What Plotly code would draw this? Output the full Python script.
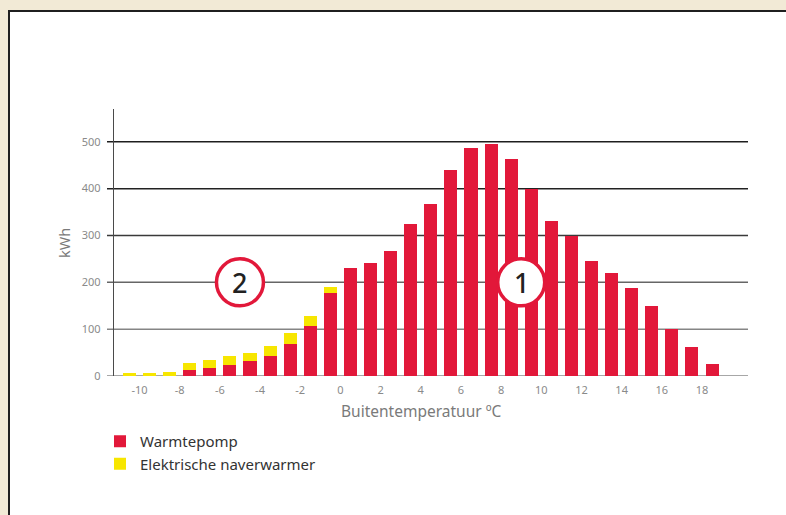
import plotly.graph_objects as go

# ---- data ----
temps = [-10.5, -9.5, -8.5, -7.5, -6.5, -5.5, -4.5, -3.5, -2.5, -1.5, -0.5,
         0.5, 1.5, 2.5, 3.5, 4.5, 5.5, 6.5, 7.5, 8.5, 9.5, 10.5, 11.5, 12.5,
         13.5, 14.5, 15.5, 16.5, 17.5, 18.5]
warmtepomp = [0, 0, 0, 13, 18, 24, 33, 43, 68, 107, 177,
              231, 241, 267, 325, 367, 440, 487, 496, 464, 399, 331, 298, 246,
              220, 188, 150, 101, 62, 26]
naverwarmer = [7, 7, 9, 15, 17, 19, 16, 21, 24, 21, 13,
               0, 0, 0, 0, 0, 0, 0, 0, 0, 0, 0, 0, 0,
               0, 0, 0, 0, 0, 0]
x_ticks = [-10, -8, -6, -4, -2, 0, 2, 4, 6, 8, 10, 12, 14, 16, 18]
y_ticks = [0, 100, 200, 300, 400, 500]
grid_colors = ["#8a8a8a", "#858585", "#666666", "#3a3a3a", "#222222", "#1e1e1e"]
markers = [("2", -5, 200), ("1", 9, 200)]

RED = "#E2183A"
YELLOW = "#F7E600"
FONT = "Noto Sans"

W, H = 786, 515
L, R, T, B = 114, 38, 109, 139
pw, ph = W - L - R, H - T - B


def px_x(p):
    return (p - L) / pw


def px_y(p):
    return (H - B - p) / ph


fig = go.Figure()
fig.add_trace(go.Bar(x=temps, y=warmtepomp, name="Warmtepomp",
                     marker=dict(color=RED, line=dict(width=0)), width=0.65))
fig.add_trace(go.Bar(x=temps, y=naverwarmer, name="Elektrische naverwarmer",
                     marker=dict(color=YELLOW, line=dict(width=0)), width=0.65))

shapes = []
# white panel with dark border on beige background
shapes.append(dict(type="rect", xref="paper", yref="paper",
                   x0=px_x(9), x1=px_x(800), y0=px_y(530), y1=px_y(11),
                   fillcolor="white", line=dict(color="#1f1f1f", width=2),
                   layer="below"))
# gridlines
for v, c in zip(y_ticks, grid_colors):
    shapes.append(dict(type="line", xref="paper", yref="y",
                       x0=px_x(107), x1=1, y0=v, y1=v,
                       line=dict(color=c, width=1.5), layer="below"))
# numbered circles
for label, cx, cy in markers:
    shapes.append(dict(type="circle", xref="x", yref="y",
                       xsizemode="pixel", ysizemode="pixel",
                       xanchor=cx, yanchor=cy, x0=-23.5, x1=23.5, y0=-23.5, y1=23.5,
                       fillcolor="white", line=dict(color=RED, width=3.5),
                       layer="above"))

annotations = []
for label, cx, cy in markers:
    annotations.append(dict(x=cx, y=cy, xref="x", yref="y", text=label,
                            showarrow=False,
                            font=dict(family=FONT, size=27, color="#222222",
                                      weight=500)))
annotations.append(dict(x=px_x(421), y=px_y(411), xref="paper", yref="paper",
                        text="Buitentemperatuur ºC", showarrow=False,
                        xanchor="center", yanchor="middle",
                        font=dict(family=FONT, size=15.5, color="#7a7a7a")))
annotations.append(dict(x=px_x(64), y=px_y(243), xref="paper", yref="paper",
                        text="kWh", showarrow=False, textangle=-90,
                        xanchor="center", yanchor="middle",
                        font=dict(family=FONT, size=14.5, color="#7a7a7a")))

fig.update_layout(
    width=W, height=H, autosize=False,
    margin=dict(l=L, r=R, t=T, b=B),
    paper_bgcolor="#F2EAD6",
    plot_bgcolor="rgba(0,0,0,0)",
    barmode="stack",
    bargap=0,
    shapes=shapes,
    annotations=annotations,
    font=dict(family=FONT),
    showlegend=True,
    legend=dict(x=px_x(100), y=px_y(425), xanchor="left", yanchor="top",
                orientation="v", traceorder="normal",
                bgcolor="rgba(0,0,0,0)",
                font=dict(family=FONT, size=15, color="#333333"),
                itemwidth=30, tracegroupgap=0),
    xaxis=dict(range=[-11.27, 20.29], showgrid=False, zeroline=False,
               showline=False, tickmode="array", tickvals=x_ticks,
               ticktext=[str(v) for v in x_ticks],
               ticks="outside", ticklen=4, tickcolor="rgba(0,0,0,0)",
               tickfont=dict(family=FONT, size=11, color="#8a8a8a")),
    yaxis=dict(range=[0, 570], showgrid=False, zeroline=False,
               showline=True, linecolor="#4a4a4a", linewidth=1.3,
               tickmode="array", tickvals=y_ticks,
               ticktext=[str(v) for v in y_ticks],
               ticks="outside", ticklen=10, tickcolor="rgba(0,0,0,0)",
               tickfont=dict(family=FONT, size=11, color="#8a8a8a")),
)

fig.write_html(
    "out.html",
    config={"displayModeBar": False},
    post_script="document.body.style.margin='0px';"
                "document.body.style.overflow='hidden';"
                "document.documentElement.style.overflow='hidden';",
)
